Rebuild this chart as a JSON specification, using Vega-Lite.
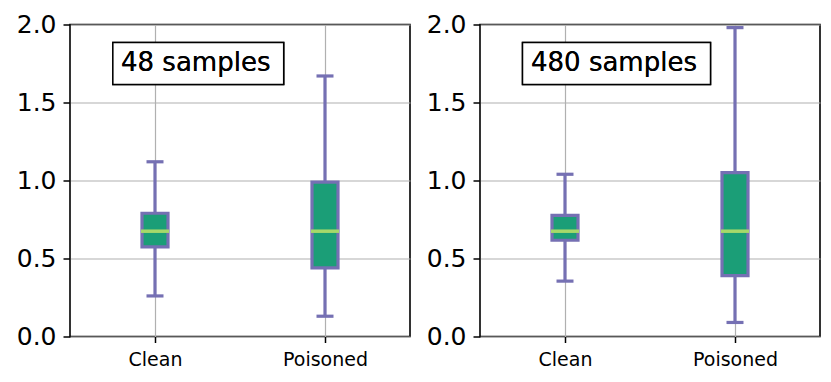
{
  "$schema": "https://vega.github.io/schema/vega-lite/v6.json",
  "padding": {"left": 15, "top": 11.5, "right": 0, "bottom": 0},
  "background": "white",
  "spacing": 14,
  "config": {
    "font": "DejaVu Sans",
    "view": {"stroke": "black", "strokeWidth": 1.6},
    "axis": {
      "grid": true,
      "gridColor": "#b0b0b0",
      "gridWidth": 1.2,
      "domain": false,
      "tickColor": "black",
      "tickWidth": 1.5,
      "labelColor": "black",
      "labelFont": "DejaVu Sans",
      "title": null
    }
  },
  "hconcat": [
    {
      "width": 340,
      "height": 312,
      "data": {"values": [
        {"group": "Clean", "lower": 0.26, "q1": 0.575, "median": 0.675, "q3": 0.79, "upper": 1.12},
        {"group": "Poisoned", "lower": 0.13, "q1": 0.44, "median": 0.675, "q3": 0.99, "upper": 1.67}
      ]},
      "resolve": {"scale": {"x": "independent"}, "axis": {"x": "independent"}},
      "layer": [
        {
          "mark": {"type": "rule", "color": "#7570b3", "strokeWidth": 3.2},
          "encoding": {
            "x": {"field": "group", "type": "nominal", "scale": {"type": "point", "padding": 0.5, "domain": ["Clean", "Poisoned"]}, "axis": {"labelAngle": 0, "labelFontSize": 19, "tickSize": 6, "labelPadding": 8}},
            "y": {"field": "lower", "type": "quantitative", "scale": {"domain": [0, 2], "nice": false, "zero": false}, "axis": {"values": [0, 0.5, 1, 1.5, 2], "format": ".1f", "labelFontSize": 25, "tickSize": 7, "labelPadding": 7}},
            "y2": {"field": "upper"}
          }
        },
        {
          "mark": {"type": "tick", "color": "#7570b3", "size": 17, "thickness": 3.2, "opacity": 1},
          "encoding": {
            "x": {"field": "group", "type": "nominal", "scale": {"type": "point", "padding": 0.5, "domain": ["Clean", "Poisoned"]}, "axis": null},
            "y": {"field": "lower", "type": "quantitative"}
          }
        },
        {
          "mark": {"type": "tick", "color": "#7570b3", "size": 17, "thickness": 3.2, "opacity": 1},
          "encoding": {
            "x": {"field": "group", "type": "nominal", "scale": {"type": "point", "padding": 0.5, "domain": ["Clean", "Poisoned"]}, "axis": null},
            "y": {"field": "upper", "type": "quantitative"}
          }
        },
        {
          "mark": {"type": "bar", "fill": "#1b9e77", "stroke": "#7570b3", "strokeWidth": 3.2, "size": 26},
          "encoding": {
            "x": {"field": "group", "type": "nominal", "scale": {"type": "point", "padding": 0.5, "domain": ["Clean", "Poisoned"]}, "axis": null},
            "y": {"field": "q1", "type": "quantitative"},
            "y2": {"field": "q3"}
          }
        },
        {
          "mark": {"type": "tick", "color": "#a6d96a", "size": 28, "thickness": 3.5, "opacity": 1},
          "encoding": {
            "x": {"field": "group", "type": "nominal", "scale": {"type": "point", "padding": 0.5, "domain": ["Clean", "Poisoned"]}, "axis": null},
            "y": {"field": "median", "type": "quantitative"}
          }
        },
        {
          "mark": {"type": "rect", "fill": "white", "stroke": "black", "strokeWidth": 1.5},
          "encoding": {
            "x": {"datum": 0.126, "type": "quantitative", "scale": {"domain": [0, 1]}, "axis": null},
            "x2": {"datum": 0.6285},
            "y": {"datum": 1.615, "type": "quantitative"},
            "y2": {"datum": 1.885}
          }
        },
        {
          "mark": {"type": "text", "fontSize": 26, "align": "left", "baseline": "alphabetic", "color": "black", "font": "DejaVu Sans", "text": "48 samples"},
          "encoding": {
            "x": {"datum": 0.15, "type": "quantitative", "scale": {"domain": [0, 1]}, "axis": null},
            "y": {"datum": 1.7, "type": "quantitative"}
          }
        }
      ]
    },
    {
      "width": 340,
      "height": 312,
      "data": {"values": [
        {"group": "Clean", "lower": 0.355, "q1": 0.617, "median": 0.675, "q3": 0.777, "upper": 1.04},
        {"group": "Poisoned", "lower": 0.09, "q1": 0.39, "median": 0.675, "q3": 1.05, "upper": 1.98}
      ]},
      "resolve": {"scale": {"x": "independent"}, "axis": {"x": "independent"}},
      "layer": [
        {
          "mark": {"type": "rule", "color": "#7570b3", "strokeWidth": 3.2},
          "encoding": {
            "x": {"field": "group", "type": "nominal", "scale": {"type": "point", "padding": 0.5, "domain": ["Clean", "Poisoned"]}, "axis": {"labelAngle": 0, "labelFontSize": 19, "tickSize": 6, "labelPadding": 8}},
            "y": {"field": "lower", "type": "quantitative", "scale": {"domain": [0, 2], "nice": false, "zero": false}, "axis": {"values": [0, 0.5, 1, 1.5, 2], "format": ".1f", "labelFontSize": 25, "tickSize": 7, "labelPadding": 7}},
            "y2": {"field": "upper"}
          }
        },
        {
          "mark": {"type": "tick", "color": "#7570b3", "size": 17, "thickness": 3.2, "opacity": 1},
          "encoding": {
            "x": {"field": "group", "type": "nominal", "scale": {"type": "point", "padding": 0.5, "domain": ["Clean", "Poisoned"]}, "axis": null},
            "y": {"field": "lower", "type": "quantitative"}
          }
        },
        {
          "mark": {"type": "tick", "color": "#7570b3", "size": 17, "thickness": 3.2, "opacity": 1},
          "encoding": {
            "x": {"field": "group", "type": "nominal", "scale": {"type": "point", "padding": 0.5, "domain": ["Clean", "Poisoned"]}, "axis": null},
            "y": {"field": "upper", "type": "quantitative"}
          }
        },
        {
          "mark": {"type": "bar", "fill": "#1b9e77", "stroke": "#7570b3", "strokeWidth": 3.2, "size": 26},
          "encoding": {
            "x": {"field": "group", "type": "nominal", "scale": {"type": "point", "padding": 0.5, "domain": ["Clean", "Poisoned"]}, "axis": null},
            "y": {"field": "q1", "type": "quantitative"},
            "y2": {"field": "q3"}
          }
        },
        {
          "mark": {"type": "tick", "color": "#a6d96a", "size": 28, "thickness": 3.5, "opacity": 1},
          "encoding": {
            "x": {"field": "group", "type": "nominal", "scale": {"type": "point", "padding": 0.5, "domain": ["Clean", "Poisoned"]}, "axis": null},
            "y": {"field": "median", "type": "quantitative"}
          }
        },
        {
          "mark": {"type": "rect", "fill": "white", "stroke": "black", "strokeWidth": 1.5},
          "encoding": {
            "x": {"datum": 0.125, "type": "quantitative", "scale": {"domain": [0, 1]}, "axis": null},
            "x2": {"datum": 0.678},
            "y": {"datum": 1.615, "type": "quantitative"},
            "y2": {"datum": 1.885}
          }
        },
        {
          "mark": {"type": "text", "fontSize": 26, "align": "left", "baseline": "alphabetic", "color": "black", "font": "DejaVu Sans", "text": "480 samples"},
          "encoding": {
            "x": {"datum": 0.15, "type": "quantitative", "scale": {"domain": [0, 1]}, "axis": null},
            "y": {"datum": 1.7, "type": "quantitative"}
          }
        }
      ]
    }
  ]
}
